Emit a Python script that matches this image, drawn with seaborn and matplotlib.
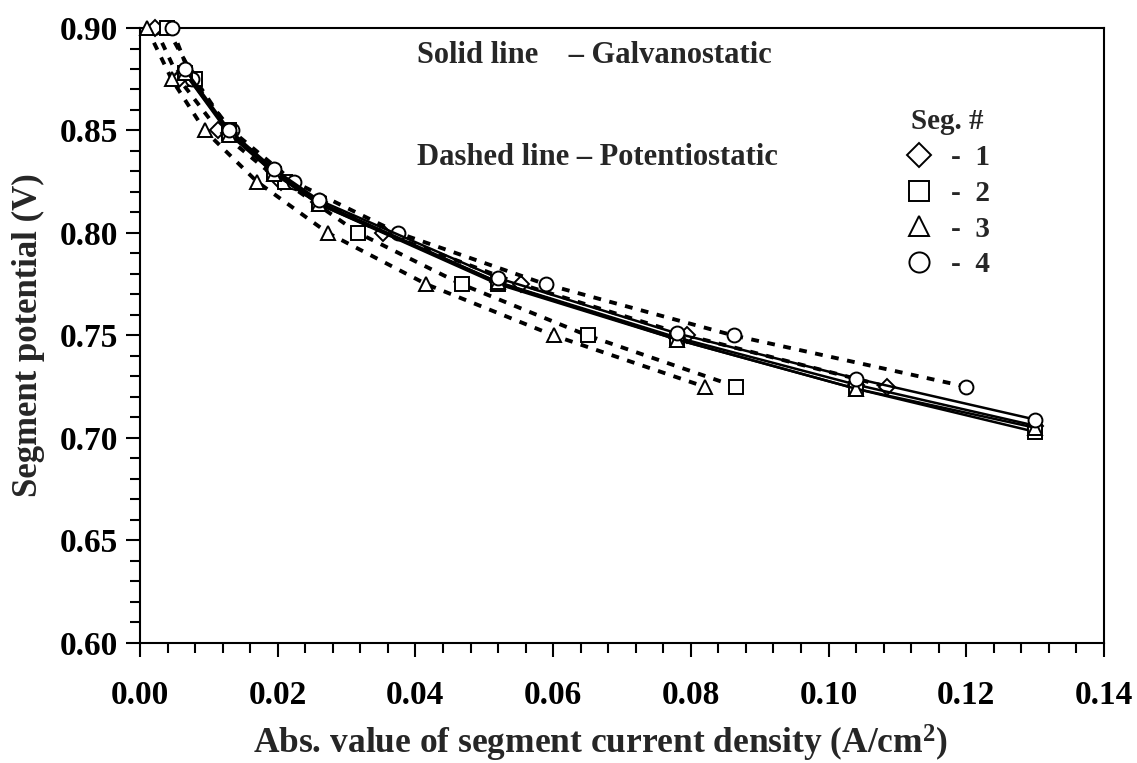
import pandas as pd
import matplotlib
matplotlib.use("Agg")
import matplotlib.pyplot as plt
from matplotlib.lines import Line2D
from matplotlib.ticker import MultipleLocator
import seaborn as sns

# Galvanostatic runs: current set, potential measured (solid lines)
galv_j = [0.0065, 0.013, 0.0195, 0.026, 0.052, 0.078, 0.104, 0.130]
galv_v_seg1 = [0.879, 0.849, 0.830, 0.815, 0.776, 0.749, 0.726, 0.706]
galv_v_seg2 = [0.878, 0.849, 0.829, 0.814, 0.775, 0.748, 0.724, 0.703]
galv_v_seg3 = [0.878, 0.848, 0.829, 0.814, 0.776, 0.748, 0.724, 0.705]
galv_v_seg4 = [0.880, 0.850, 0.831, 0.816, 0.778, 0.751, 0.729, 0.709]

# Potentiostatic runs: potential set, current measured (dashed lines)
pot_v = [0.90, 0.875, 0.85, 0.825, 0.80, 0.775, 0.75, 0.725]
pot_j_seg1 = [0.0022, 0.0057, 0.0114, 0.0205, 0.0353, 0.0553, 0.0795, 0.1085]
pot_j_seg2 = [0.0039, 0.0080, 0.0130, 0.0210, 0.0317, 0.0467, 0.0650, 0.0866]
pot_j_seg3 = [0.0010, 0.0046, 0.0094, 0.0170, 0.0273, 0.0416, 0.0601, 0.0820]
pot_j_seg4 = [0.0046, 0.0075, 0.0133, 0.0223, 0.0375, 0.0589, 0.0862, 0.1200]

segments = ["1", "2", "3", "4"]
seg_markers = {"1": "D", "2": "s", "3": "^", "4": "o"}
seg_msize = {"1": 8.5, "2": 10, "3": 10, "4": 10}

galv_v = [galv_v_seg1, galv_v_seg2, galv_v_seg3, galv_v_seg4]
pot_j = [pot_j_seg1, pot_j_seg2, pot_j_seg3, pot_j_seg4]

sns.set_style("ticks")
plt.rcParams.update({
    'font.family': ['Liberation Serif', 'DejaVu Serif'],
    'font.weight': 'bold',
    'axes.labelweight': 'bold',
    'mathtext.fontset': 'custom',
    'mathtext.rm': 'Liberation Serif:bold',
    'mathtext.bf': 'Liberation Serif:bold',
    'mathtext.default': 'bf',
    'axes.edgecolor': 'black',
    'axes.linewidth': 1.5,
    'xtick.color': 'black',
    'ytick.color': 'black',
})


def main():
    rows = []
    for seg, vs, js in zip(segments, galv_v, pot_j):
        for j, v in zip(galv_j, vs):
            rows.append({'seg': seg, 'mode': 'galv', 'j': j, 'v': v})
        for j, v in zip(js, pot_v):
            rows.append({'seg': seg, 'mode': 'pot', 'j': j, 'v': v})
    df = pd.DataFrame(rows)

    fig = plt.figure(figsize=(11.37, 7.63), dpi=100)
    ax = fig.add_axes([0.1231, 0.1573, 0.8479, 0.8060])

    # dashed (potentiostatic) first, solid on top
    for seg in segments:
        d = df[(df.seg == seg) & (df['mode'] == 'pot')]
        sns.lineplot(data=d, x='j', y='v', ax=ax, sort=False, color='black',
                     linewidth=2.8, linestyle=(0, (2.0, 2.2)),
                     marker=seg_markers[seg], markersize=seg_msize[seg],
                     markerfacecolor='white', markeredgecolor='black',
                     markeredgewidth=1.4, clip_on=False, zorder=3)
    for seg in segments:
        d = df[(df.seg == seg) & (df['mode'] == 'galv')]
        sns.lineplot(data=d, x='j', y='v', ax=ax, sort=False, color='black',
                     linewidth=1.8,
                     marker=seg_markers[seg], markersize=seg_msize[seg],
                     markerfacecolor='white', markeredgecolor='black',
                     markeredgewidth=1.4, clip_on=False, zorder=4)

    ax.set_xlim(0, 0.14)
    ax.set_ylim(0.60, 0.90)
    ax.xaxis.set_major_locator(MultipleLocator(0.02))
    ax.xaxis.set_minor_locator(MultipleLocator(0.004))
    ax.yaxis.set_major_locator(MultipleLocator(0.05))
    ax.yaxis.set_minor_locator(MultipleLocator(0.01))
    ax.xaxis.set_major_formatter(plt.FormatStrFormatter('%.2f'))
    ax.yaxis.set_major_formatter(plt.FormatStrFormatter('%.2f'))
    ax.tick_params(which='major', direction='out', length=10, width=1.5,
                   labelsize=24)
    ax.tick_params(which='minor', direction='out', length=7, width=1.5)
    ax.tick_params(axis='x', which='major', pad=17)
    ax.tick_params(axis='y', which='major', pad=6)
    for s in ax.spines.values():
        s.set_visible(True)
        s.set_color('black')

    ax.set_xlabel('Abs. value of segment current density (A/cm$^2$)',
                  fontsize=25.5, fontweight='bold')
    ax.xaxis.set_label_coords(0.478, -0.13)
    ax.set_ylabel('Segment potential (V)', fontsize=25, fontweight='bold',
                  labelpad=10)

    ax.text(0.287, 0.956, 'Solid line    \u2013 Galvanostatic', transform=ax.transAxes,
            fontsize=22, fontweight='bold', va='center', ha='left')
    ax.text(0.287, 0.79, 'Dashed line \u2013 Potentiostatic', transform=ax.transAxes,
            fontsize=22, fontweight='bold', va='center', ha='left')

    handles = [Line2D([], [], linestyle='none', marker=seg_markers[s],
                      markersize=seg_msize[s] * 1.45, markerfacecolor='white',
                      markeredgecolor='black', markeredgewidth=1.4)
               for s in segments]
    labels = ['-  ' + s for s in segments]
    ax.legend(handles, labels, title='Seg. #', loc='upper left',
              bbox_to_anchor=(0.766, 0.912), frameon=False,
              handlelength=1.0, handletextpad=0.6, labelspacing=0.3,
              prop={'weight': 'bold', 'size': 21},
              title_fontproperties={'weight': 'bold', 'size': 21})

    fig.savefig('out.png', dpi=100)
    plt.close(fig)


if __name__ == '__main__':
    main()
